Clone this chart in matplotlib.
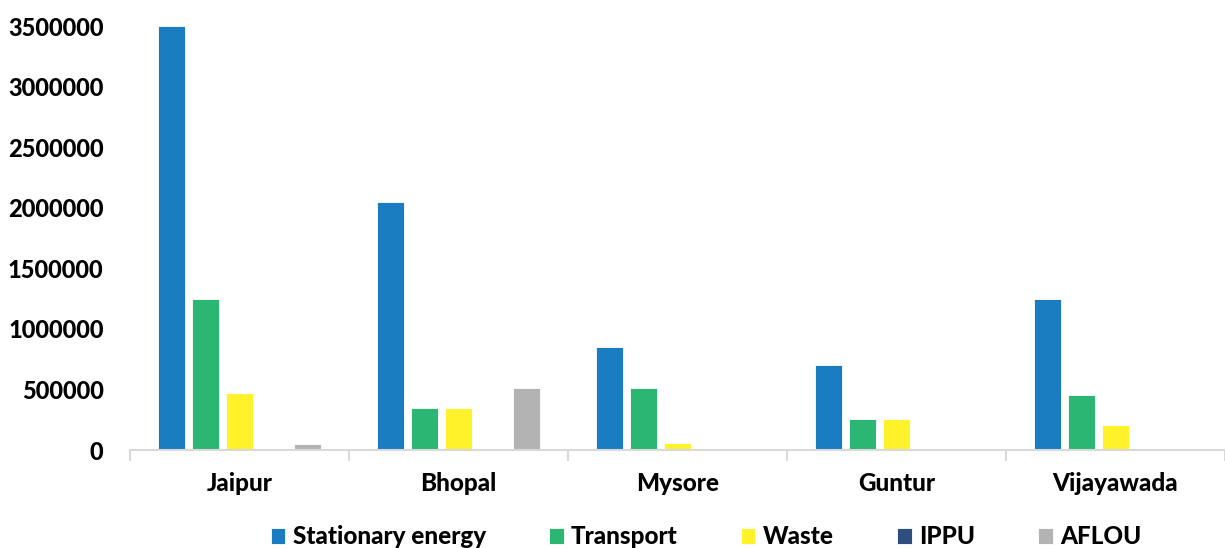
import numpy as np
import matplotlib
matplotlib.use("Agg")
import matplotlib.pyplot as plt

cities = ["Jaipur", "Bhopal", "Mysore", "Guntur", "Vijayawada"]
sectors = ["Stationary energy", "Transport", "Waste", "IPPU", "AFLOU"]

stationary = [3500000, 2050000, 850000, 700000, 1250000]
transport = [1250000, 350000, 515000, 255000, 455000]
waste = [470000, 350000, 55000, 255000, 205000]
ippu = [0, 0, 0, 0, 0]
aflou = [50000, 515000, 0, 0, 0]

colors = ["#1a7dc1", "#2bb673", "#fff22a", "#2e4e7e", "#b3b3b3"]

plt.rcParams["font.family"] = ["Lato", "DejaVu Sans"]
plt.rcParams["font.weight"] = "black"

fig = plt.figure(figsize=(12.25, 5.48), dpi=100)
ax = fig.add_axes([130 / 1225, 98 / 548, 1095 / 1225, 424 / 548])

x = np.arange(len(cities))
pitch = 0.155
width = 0.123
series = [stationary, transport, waste, ippu, aflou]
for j, (name, vals) in enumerate(zip(sectors, series)):
    ax.bar(x + (j - 2) * pitch, vals, width, color=colors[j], label=name,
           edgecolor="white", linewidth=0.6)

ax.set_xlim(-0.5, len(cities) - 0.5)
ax.set_ylim(0, 3500000)
ax.set_yticks(np.arange(0, 3500001, 500000))
ax.set_yticklabels([str(v) for v in range(0, 3500001, 500000)])
ax.set_xticks(x)
ax.set_xticklabels(cities)
ax.set_xticks(np.arange(-0.5, len(cities)), minor=True)

for s in ["top", "right", "left"]:
    ax.spines[s].set_visible(False)
ax.spines["bottom"].set_color("#d9d9d9")
ax.spines["bottom"].set_linewidth(1.5)

ax.tick_params(axis="y", length=0, pad=19, labelsize=17)
ax.tick_params(axis="x", which="major", length=0, pad=16, labelsize=17.5)
ax.tick_params(axis="x", which="minor", length=8, width=1.5, color="#d9d9d9")

fig.legend(loc="center", bbox_to_anchor=(706 / 1225, 11 / 548), ncol=5,
           frameon=False, fontsize=17.5, handlelength=0.6, handleheight=0.6,
           handletextpad=0.3, columnspacing=2.6)

fig.savefig("out.png", dpi=100)
